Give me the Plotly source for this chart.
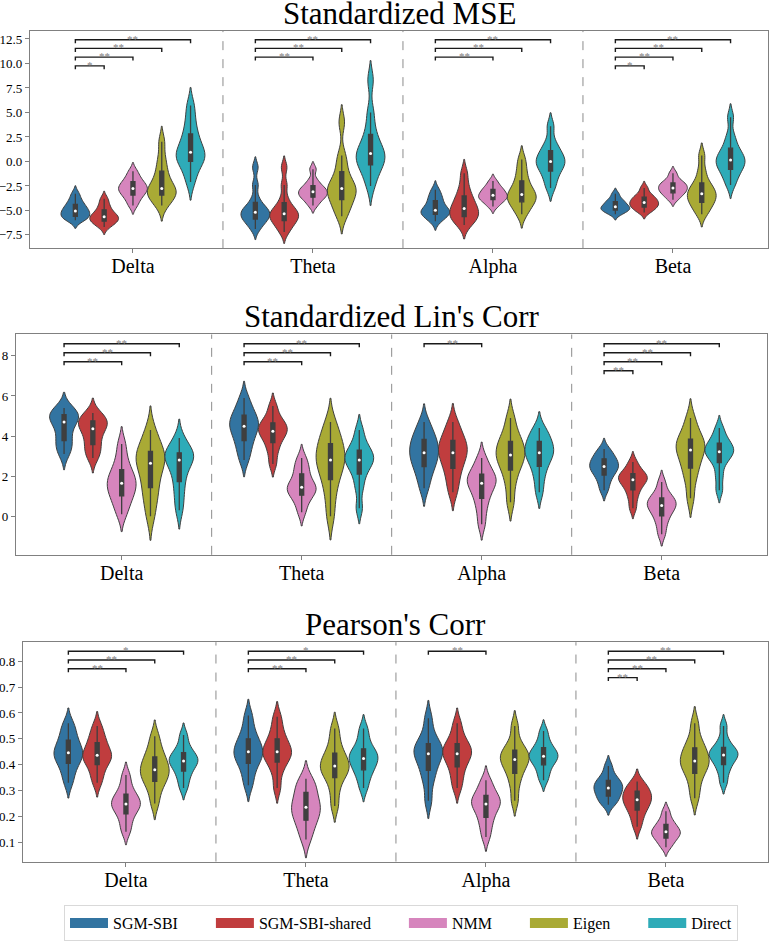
import numpy as np
import plotly.graph_objects as go

methods = ["SGM-SBI", "SGM-SBI-shared", "NMM", "Eigen", "Direct"]
bands = ["Delta", "Theta", "Alpha", "Beta"]
colors = ["#3274a1", "#c03d3e", "#d685bd", "#a9aa35", "#2eabb8"]

# ---- Standardized MSE (estimated sample values per band, one list per method)
mse_delta = [
    [-6.0, -5.85, -5.65, -5.45, -5.25, -5.07, -4.85, -4.6, -4.3, -3.9, -3.3],
    [-6.7, -6.35, -6.15, -5.95, -5.8, -5.64, -5.45, -5.2, -4.85, -4.4, -3.8],
    [-4.5, -3.9, -3.5, -3.2, -2.95, -2.77, -2.55, -2.3, -2.0, -1.6, -1.0],
    [-4.5, -3.9, -3.5, -3.2, -3.0, -2.77, -2.3, -1.6, -0.8, 0.3, 2.0],
    [-2.1, -0.9, -0.1, 0.3, 0.6, 0.95, 1.5, 2.2, 3.0, 4.2, 5.7],
]
mse_theta = [
    [-6.9, -6.3, -6.0, -5.75, -5.5, -5.3, -5.05, -4.8, -4.55, -3.8, -2.4, -0.6],
    [-7.2, -6.6, -6.2, -5.9, -5.65, -5.47, -5.2, -4.9, -4.6, -3.8, -2.4, -0.6],
    [-4.5, -4.0, -3.7, -3.5, -3.3, -3.1, -2.9, -2.7, -2.4, -1.9, -0.8],
    [-5.6, -4.8, -4.2, -3.6, -3.2, -2.94, -2.6, -2.2, -1.6, -0.5, 0.6, 4.0],
    [-2.5, -1.3, -0.6, -0.1, 0.3, 0.61, 1.0, 1.5, 2.2, 3.3, 5.0, 8.3],
]
mse_alpha = [
    [-6.1, -5.7, -5.45, -5.25, -5.1, -4.97, -4.7, -4.3, -3.9, -3.5, -2.9],
    [-6.5, -6.0, -5.7, -5.4, -5.1, -4.8, -4.4, -3.9, -3.4, -2.5, -1.2],
    [-4.6, -4.2, -3.95, -3.75, -3.6, -3.45, -3.25, -3.0, -2.8, -2.5, -2.0],
    [-5.4, -4.7, -4.2, -3.9, -3.6, -3.38, -3.0, -2.5, -1.8, -0.9, 0.2],
    [-2.7, -1.8, -1.1, -0.6, -0.25, 0.0, 0.35, 0.8, 1.2, 2.0, 3.6],
]
mse_beta = [
    [-5.4, -5.15, -5.0, -4.85, -4.75, -4.63, -4.45, -4.25, -4.05, -3.8, -3.3],
    [-5.2, -4.9, -4.7, -4.5, -4.35, -4.19, -4.0, -3.8, -3.6, -3.3, -2.7],
    [-3.9, -3.5, -3.25, -3.05, -2.85, -2.7, -2.5, -2.3, -2.15, -1.8, -1.2],
    [-5.4, -4.8, -4.35, -4.0, -3.7, -3.45, -3.15, -2.8, -2.5, -1.9, -0.9, 0.6],
    [-2.4, -1.6, -1.0, -0.6, -0.25, 0.0, 0.3, 0.7, 1.0, 1.7, 2.6, 4.5],
]

# ---- Standardized Lin's Corr
lin_delta = [
    [3.1, 3.4, 3.7, 4.0, 4.4, 4.7, 4.85, 4.95, 5.1, 5.25, 5.4],
    [2.9, 3.2, 3.5, 3.8, 4.15, 4.37, 4.55, 4.65, 4.8, 4.95, 5.15],
    [0.1, 0.6, 0.95, 1.2, 1.45, 1.65, 1.85, 2.1, 2.4, 2.9, 3.6],
    [0.0, 0.8, 1.3, 1.8, 2.3, 2.64, 2.85, 3.05, 3.3, 3.7, 4.3],
    [0.3, 1.0, 1.6, 2.1, 2.5, 2.8, 2.95, 3.05, 3.2, 3.45, 3.9],
]
lin_theta = [
    [2.8, 3.3, 3.7, 4.0, 4.3, 4.49, 4.65, 4.85, 5.1, 5.4, 5.9],
    [2.6, 3.2, 3.6, 3.9, 4.1, 4.24, 4.4, 4.55, 4.7, 5.0, 5.5],
    [0.2, 0.7, 1.0, 1.2, 1.35, 1.44, 1.6, 1.85, 2.2, 2.5, 2.9],
    [0.0, 1.0, 1.7, 2.2, 2.55, 2.8, 3.05, 3.4, 3.7, 4.1, 4.7],
    [0.4, 1.4, 2.0, 2.4, 2.65, 2.8, 2.95, 3.15, 3.35, 3.7, 4.3],
]
lin_alpha = [
    [1.4, 2.0, 2.4, 2.7, 2.95, 3.17, 3.4, 3.65, 3.9, 4.2, 4.7],
    [1.2, 1.8, 2.3, 2.65, 2.95, 3.17, 3.4, 3.6, 3.85, 4.2, 4.7],
    [-0.4, 0.3, 0.8, 1.15, 1.45, 1.65, 1.8, 1.95, 2.15, 2.45, 2.9],
    [0.7, 1.6, 2.2, 2.6, 2.85, 3.05, 3.3, 3.55, 3.8, 4.2, 4.9],
    [1.2, 1.9, 2.4, 2.75, 3.0, 3.17, 3.35, 3.55, 3.8, 4.05, 4.4],
]
lin_beta = [
    [1.3, 1.7, 2.0, 2.2, 2.35, 2.48, 2.6, 2.75, 2.9, 3.1, 3.35],
    [0.4, 0.9, 1.25, 1.5, 1.68, 1.82, 1.92, 2.02, 2.15, 2.35, 2.7],
    [-0.9, -0.4, -0.05, 0.2, 0.4, 0.53, 0.65, 0.8, 0.95, 1.2, 1.7],
    [0.9, 1.8, 2.3, 2.7, 3.05, 3.3, 3.5, 3.7, 3.9, 4.3, 4.9],
    [1.3, 2.0, 2.6, 2.9, 3.1, 3.22, 3.35, 3.5, 3.7, 3.95, 4.4],
]

# ---- Pearson's Corr
pear_delta = [
    [0.33, 0.37, 0.40, 0.42, 0.435, 0.446, 0.46, 0.48, 0.50, 0.53, 0.56],
    [0.33, 0.365, 0.395, 0.415, 0.428, 0.436, 0.45, 0.47, 0.49, 0.515, 0.55],
    [0.14, 0.175, 0.205, 0.225, 0.238, 0.248, 0.26, 0.275, 0.29, 0.32, 0.36],
    [0.25, 0.30, 0.33, 0.35, 0.365, 0.38, 0.395, 0.415, 0.435, 0.465, 0.51],
    [0.31, 0.345, 0.37, 0.39, 0.404, 0.414, 0.424, 0.435, 0.45, 0.475, 0.515],
]
pear_theta = [
    [0.32, 0.365, 0.40, 0.42, 0.437, 0.45, 0.465, 0.485, 0.505, 0.54, 0.59],
    [0.31, 0.37, 0.405, 0.425, 0.44, 0.45, 0.465, 0.485, 0.505, 0.54, 0.585],
    [0.11, 0.15, 0.18, 0.20, 0.22, 0.235, 0.25, 0.27, 0.30, 0.32, 0.345],
    [0.24, 0.30, 0.345, 0.365, 0.382, 0.395, 0.41, 0.43, 0.45, 0.49, 0.54],
    [0.31, 0.35, 0.375, 0.395, 0.41, 0.424, 0.436, 0.45, 0.465, 0.50, 0.54],
]
pear_alpha = [
    [0.26, 0.33, 0.37, 0.40, 0.425, 0.442, 0.455, 0.47, 0.485, 0.52, 0.58],
    [0.31, 0.35, 0.385, 0.41, 0.43, 0.442, 0.455, 0.47, 0.485, 0.515, 0.56],
    [0.12, 0.16, 0.19, 0.215, 0.235, 0.248, 0.258, 0.27, 0.285, 0.31, 0.34],
    [0.26, 0.32, 0.36, 0.385, 0.405, 0.42, 0.432, 0.445, 0.46, 0.49, 0.55],
    [0.34, 0.37, 0.395, 0.412, 0.424, 0.433, 0.443, 0.455, 0.47, 0.495, 0.53],
]
pear_beta = [
    [0.245, 0.26, 0.275, 0.288, 0.30, 0.31, 0.32, 0.33, 0.342, 0.36, 0.395],
    [0.16, 0.195, 0.22, 0.238, 0.252, 0.264, 0.275, 0.288, 0.30, 0.315, 0.335],
    [0.08, 0.10, 0.113, 0.125, 0.133, 0.14, 0.148, 0.16, 0.172, 0.19, 0.22],
    [0.27, 0.32, 0.36, 0.385, 0.40, 0.414, 0.43, 0.45, 0.47, 0.50, 0.56],
    [0.33, 0.37, 0.395, 0.415, 0.428, 0.437, 0.447, 0.458, 0.47, 0.50, 0.55],
]

# ---- significance (method index compared with SGM-SBI, marker)
mse_sig = [[(1, "*"), (2, "**"), (3, "**"), (4, "**")],
           [(2, "**"), (3, "**"), (4, "**")],
           [(2, "**"), (3, "**"), (4, "**")],
           [(1, "*"), (2, "**"), (3, "**"), (4, "**")]]
lin_sig = [[(2, "**"), (3, "**"), (4, "**")],
           [(2, "**"), (3, "**"), (4, "**")],
           [(2, "**")],
           [(1, "**"), (2, "**"), (3, "**"), (4, "**")]]
pear_sig = [[(2, "**"), (3, "**"), (4, "*")],
            [(2, "**"), (3, "**"), (4, "*")],
            [(2, "**")],
            [(1, "**"), (2, "**"), (3, "**"), (4, "**")]]

titles = ["Standardized MSE", "Standardized Lin's Corr", "Pearson's Corr"]

# ---- layout geometry (pixels) and styling
W, H = 770, 941
FONT = "Liberation Serif, Times New Roman, serif"
HUE_STEP = 0.16
VW = 0.16
BW_FACTOR = 0.5
GRAY = "#3f3f3f"
panels = [
    dict(data=[mse_delta, mse_theta, mse_alpha, mse_beta], sig=mse_sig,
         l=30, r=768, t=31, b=250, xr=[-0.572, 3.528], yr=[-8.85, 13.34],
         dtick=2.5, fmt=".1f", top=12.43, step=0.89),
    dict(data=[lin_delta, lin_theta, lin_alpha, lin_beta], sig=lin_sig,
         l=16, r=767, t=337, b=559, xr=[-0.587, 3.585], yr=[-1.93, 9.07],
         dtick=2, fmt="d", top=8.61, step=0.45),
    dict(data=[pear_delta, pear_theta, pear_alpha, pear_beta], sig=pear_sig,
         l=23, r=768, t=647, b=868, xr=[-0.572, 3.567], yr=[0.025, 0.874],
         dtick=0.1, fmt=".1f", top=0.839, step=0.034),
]


def bandwidth(vals):
    v = np.asarray(vals, dtype=float)
    iqr = np.percentile(v, 75) - np.percentile(v, 25)
    return float(BW_FACTOR * min(np.std(v, ddof=1), iqr / 1.349))


fig = go.Figure()
shapes, annots = [], []
layout = {}

for p_i, P in enumerate(panels):
    sfx = "" if p_i == 0 else str(p_i + 1)
    xa, ya = "x" + sfx, "y" + sfx
    for b_i, band_data in enumerate(P["data"]):
        for m_i, vals in enumerate(band_data):
            pos = b_i + (m_i - 2) * HUE_STEP
            fig.add_trace(go.Violin(
                x0=pos, y=vals, xaxis=xa, yaxis=ya, width=VW,
                scalegroup=f"p{p_i}b{b_i}", scalemode="width",
                bandwidth=bandwidth(vals),
                fillcolor=colors[m_i], opacity=1,
                line=dict(color=GRAY, width=1),
                points=False, showlegend=False, hoverinfo="skip",
                box=dict(visible=True, width=0.14, fillcolor=GRAY,
                         line=dict(color=GRAY, width=1.3)),
                meanline=dict(visible=False),
            ))
    # median dots
    for m_i in range(5):
        xs = [b_i + (m_i - 2) * HUE_STEP for b_i in range(4)]
        ys = [float(np.median(P["data"][b_i][m_i])) for b_i in range(4)]
        fig.add_trace(go.Scatter(x=xs, y=ys, xaxis=xa, yaxis=ya, mode="markers",
                                 marker=dict(color="white", size=3),
                                 showlegend=False, hoverinfo="skip"))
    # dividers
    for d in [0.5, 1.5, 2.5]:
        shapes.append(dict(type="line", xref=xa, yref=f"{ya} domain", x0=d, x1=d,
                           y0=0, y1=1, line=dict(color="#8c8c8c", width=1, dash="dash")))
    # significance brackets
    tick = (P["yr"][1] - P["yr"][0]) * 3.5 / (P["b"] - P["t"])
    for b_i, pairs in enumerate(P["sig"]):
        ordered = sorted(pairs, key=lambda t: -t[0])
        for k, (m_i, star) in enumerate(ordered):
            y = P["top"] - k * P["step"]
            x0 = b_i - 2 * HUE_STEP
            x1 = b_i + (m_i - 2) * HUE_STEP
            shapes.append(dict(type="path", xref=xa, yref=ya, layer="above",
                               path=f"M {x0},{y - tick} L {x0},{y} L {x1},{y} L {x1},{y - tick}",
                               line=dict(color="#1a1a1a", width=1.4)))
            annots.append(dict(x=(x0 + x1) / 2, y=y, xref=xa, yref=ya, text=star,
                               showarrow=False, yanchor="middle", yshift=1,
                               font=dict(family=FONT, size=11, color="#808080")))
    # title
    annots.append(dict(x=(P["l"] + P["r"]) / 2 / W, y=1 - P["t"] / H, xref="paper", yref="paper",
                       text=titles[p_i], showarrow=False, xanchor="center", yanchor="bottom",
                       yshift=-2, font=dict(family=FONT, size=31, color="black")))
    layout["xaxis" + sfx] = dict(
        domain=[P["l"] / W, P["r"] / W], anchor=ya, range=P["xr"],
        tickmode="array", tickvals=[0, 1, 2, 3], ticktext=bands,
        ticks="outside", ticklen=4, tickcolor="#808080", ticklabelstandoff=-4,
        showline=True, mirror=True, linecolor="#808080", linewidth=1.2,
        showgrid=False, zeroline=False,
        tickfont=dict(family=FONT, size=20, color="black"))
    layout["yaxis" + sfx] = dict(
        domain=[1 - P["b"] / H, 1 - P["t"] / H], anchor=xa, range=P["yr"],
        dtick=P["dtick"], tick0=0, tickformat=P["fmt"],
        ticks="outside", ticklen=4, tickcolor="#808080",
        showline=True, mirror=True, linecolor="#808080", linewidth=1.2,
        showgrid=False, zeroline=False,
        tickfont=dict(family=FONT, size=13, color="black"))

# legend entries (patch-like swatches); trailing no-break spaces give column spacing
PAD = "\u00a0" * 7
for m_i, name in enumerate(methods):
    fig.add_trace(go.Scatter(x=[None], y=[None], xaxis="x3", yaxis="y3", mode="lines",
                             line=dict(color=colors[m_i], width=12),
                             name=name + (PAD if m_i < 4 else ""),
                             showlegend=True, hoverinfo="skip"))

fig.update_layout(
    width=W, height=H, margin=dict(l=0, r=0, t=0, b=0),
    paper_bgcolor="white", plot_bgcolor="white",
    violinmode="overlay", hovermode=False,
    shapes=shapes, annotations=annots,
    legend=dict(orientation="h", x=401 / W, xanchor="center", y=1 - 912 / H, yanchor="top",
                bordercolor="#d9d9d9", borderwidth=1, bgcolor="white",
                font=dict(family=FONT, size=16, color="black"), itemwidth=38,
                traceorder="normal"),
    font=dict(family=FONT),
    **layout,
)
fig.write_html("out.html")
